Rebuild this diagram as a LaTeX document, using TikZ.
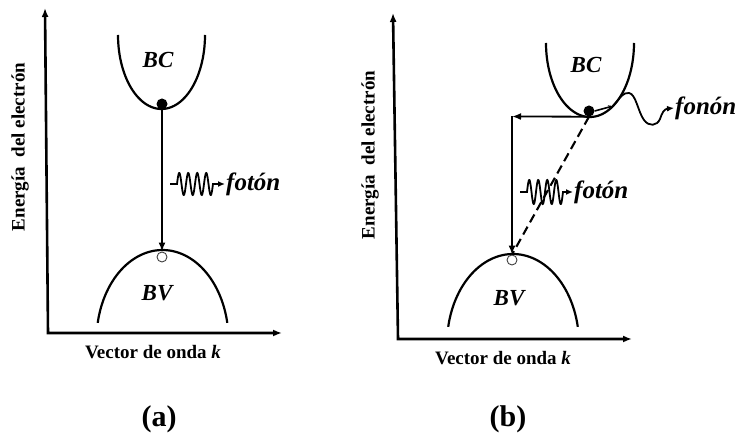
\documentclass[tikz,border=0pt]{standalone}
\usepackage{fontspec}
\setmainfont{Liberation Serif}
\usetikzlibrary{arrows.meta}

\begin{document}
\begin{tikzpicture}[x=1pt,y=-1pt,>={Latex[length=9pt,width=7pt]}]

% --- Global TikZ Styles ---
\tikzset{
    axis/.style={
        draw=black,
        line width=2.6pt
    },
    band/.style={
        draw=black,
        line width=2.2pt
    },
    transition/.style={
        ->,
        draw=black,
        line width=1.8pt
    },
    virtual/.style={
        draw=black,
        line width=2.1pt,
        dash pattern=on 9pt off 5pt
    },
    wave/.style={
        ->,
        >={Latex[length=7pt,width=6pt]},
        draw=black,
        line width=1.8pt
    },
    electron/.style={
        circle,
        fill=black,
        inner sep=0pt,
        minimum size=11pt
    },
    hole/.style={
        circle,
        draw=black!75,
        fill=white,
        line width=0.9pt,
        inner sep=0pt,
        minimum size=10pt
    },
    bandlabel/.style={
        font=\fontsize{23}{25}\selectfont\bfseries\itshape
    },
    quantum/.style={
        font=\fontsize{25}{27}\selectfont\bfseries\itshape,
        anchor=west,
        inner sep=1pt
    },
    axislabel/.style={
        font=\fontsize{19}{21}\selectfont\bfseries
    },
    panel/.style={
        font=\fontsize{30}{32}\selectfont\bfseries
    }
}

\useasboundingbox (0,0) rectangle (739,435);

% ==================================================
% --- Panel (a): direct gap ---
% ==================================================

% Axes
\coordinate (yA) at (45,8);
\coordinate (oA) at (48,333);
\coordinate (xA) at (282,333);
\draw[axis,<->] (yA) -- (oA) -- (xA);

\node[axislabel, rotate=90] (ylabA) at (20,147) {Energía\ \ del electrón};
\node[axislabel] (xlabA) at (153,352) {Vector de onda \textit{k}};

% Bands
\draw[band] plot[domain=0:180, samples=60, variable=\t]
    ({161.5+43.5*cos(\t)},{35+74*sin(\t)});
\draw[band] plot[domain=191:349, samples=60, variable=\t]
    ({162.5+66*cos(\t)},{340+90*sin(\t)});

\node[bandlabel] (bcA) at (158,60) {BC};
\node[bandlabel] (bvA) at (157,293) {BV};

% Electron and hole
\node[electron] (eA) at (162,104) {};
\node[hole] (hA) at (162,257) {};
\draw[transition] (eA.south) -- (hA.north);

% Photon
\coordinate (pA) at (170,184);
\node[quantum] (fotA) at (225,184) {fotón};
\draw[wave] (pA) -- ++(7,0)
    -- plot[domain=0:36, samples=120, variable=\t]
        ({177+\t},{184-11*sin(40*\t)})
    -- (fotA.west);

% ==================================================
% --- Panel (b): indirect gap ---
% ==================================================

% Axes
\coordinate (yB) at (393,13);
\coordinate (oB) at (398,339);
\coordinate (xB) at (632,339);
\draw[axis,<->] (yB) -- (oB) -- (xB);

\node[axislabel, rotate=90] (ylabB) at (370,155) {Energía\ \ del electrón};
\node[axislabel] (xlabB) at (503,358) {Vector de onda \textit{k}};

% Bands
\draw[band] plot[domain=0:180, samples=60, variable=\t]
    ({590+44*cos(\t)},{43+74*sin(\t)});
\draw[band] plot[domain=191:349, samples=60, variable=\t]
    ({513+66*cos(\t)},{344+90*sin(\t)});

\node[bandlabel] (bcB) at (586,65) {BC};
\node[bandlabel] (bvB) at (509,298) {BV};

% Electron and hole
\node[electron] (eB) at (589,111) {};
\node[hole] (hB) at (512,260) {};
\coordinate (cB) at (512,116.5);

\draw[transition] (eB.south) -- (cB);
\draw[transition] (cB) -- (hB.north);
\draw[virtual] (eB.south) -- (hB.north);

% Photon
\coordinate (pB) at (520,192);
\node[quantum] (fotB) at (573,192) {fotón};
\draw[wave] (pB) -- ++(7,0)
    -- plot[domain=0:36, samples=120, variable=\t]
        ({527+\t},{192-12*sin(40*\t)})
    -- (fotB.west);

% Phonon
\coordinate (kB) at (613,106);
\node[quantum] (fonB) at (674,108) {fonón};
\draw[line width=1.6pt, -{Stealth[length=5pt,width=4pt]}] (eB.east) -- (kB);
\draw[wave]
    (kB)
    .. controls (620,98) and (623,92) .. (629,93)
    .. controls (636,94) and (638,112) .. (644,120)
    .. controls (649,127) and (657,126) .. (660,119)
    .. controls (662,113) and (664,109) .. (fonB.west);

% ==================================================
% --- Panel captions ---
% ==================================================

\node[panel] (capA) at (159,419) {(a)};
\node[panel] (capB) at (508,419) {(b)};

\end{tikzpicture}
\end{document}
